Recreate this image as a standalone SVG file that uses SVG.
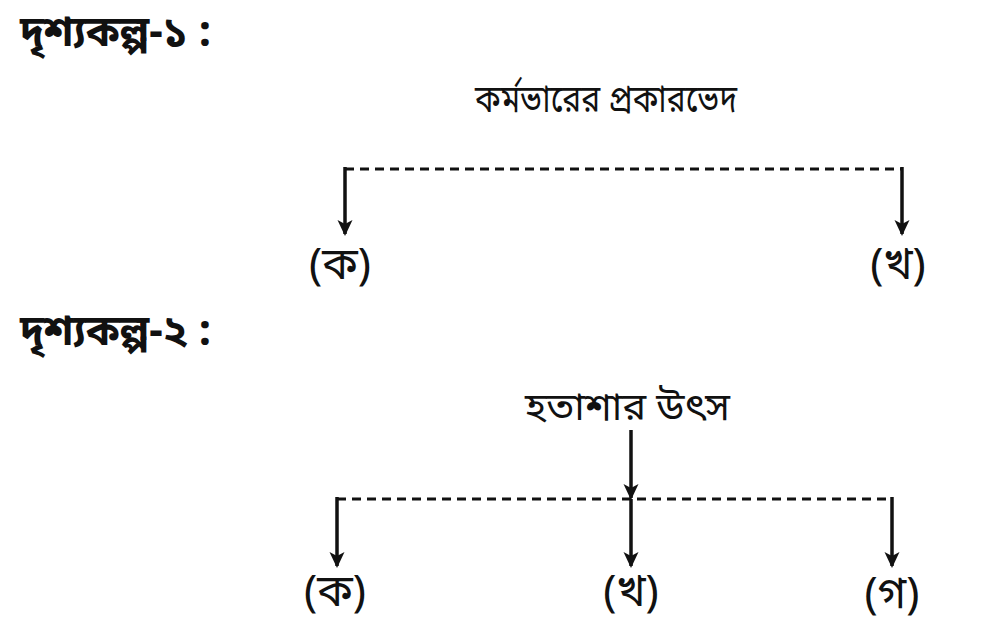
<svg xmlns="http://www.w3.org/2000/svg" width="992" height="631" viewBox="0 0 992 631">
<defs>
<style>
text{font-family:"Noto Sans Bengali","Noto Serif Bengali","Lohit Bengali","Noto Sans",sans-serif;fill:#111}
.h{font-size:42px;font-weight:bold}
.t{font-size:38px}
.l{font-size:44px}
.dash{stroke:#111;stroke-width:3;stroke-dasharray:9 6;fill:none}
.arr{stroke:#111;stroke-width:3.5;fill:none;marker-end:url(#ah)}
</style>
<marker id="ah" viewBox="0 0 16 18" refX="14" refY="9" markerWidth="16" markerHeight="18" markerUnits="userSpaceOnUse" orient="auto">
<path d="M0,1.5 L16,9 L0,16.5 L4,9 Z" fill="#111"/>
</marker>
</defs>
<rect width="992" height="631" fill="#fff"/>
<g id="scene1-title"><text class="h" x="20" y="46">দৃশ্যকল্প-১ :</text></g>
<g id="s1-root"><text class="t" x="475" y="112" textLength="262" lengthAdjust="spacingAndGlyphs">কর্মভারের প্রকারভেদ</text></g>
<g id="s1-ka"><text class="l" x="340" y="279" text-anchor="middle">(ক)</text></g>
<g id="s1-kha"><text class="l" x="898" y="279" text-anchor="middle">(খ)</text></g>
<g id="scene2-title"><text class="h" x="20" y="345">দৃশ্যকল্প-২ :</text></g>
<g id="s2-root"><text class="t" x="525" y="420" textLength="205" lengthAdjust="spacingAndGlyphs">হতাশার উৎস</text></g>
<g id="s2-ka"><text class="l" x="335" y="606" text-anchor="middle">(ক)</text></g>
<g id="s2-kha"><text class="l" x="631" y="606" text-anchor="middle">(খ)</text></g>
<g id="s2-ga"><text class="l" x="892" y="608" text-anchor="middle">(গ)</text></g>
<g id="connectors">
<path class="dash" d="M345,169 H902"/>
<path class="arr" d="M345,167 V234"/>
<path class="arr" d="M902,167 V234"/>
<path class="arr" d="M631,430 V498"/>
<path class="dash" d="M337,499 H892"/>
<path class="arr" d="M631,499 V566"/>
<path class="arr" d="M337,497 V566"/>
<path class="arr" d="M892,497 V566"/>
</g>
</svg>
